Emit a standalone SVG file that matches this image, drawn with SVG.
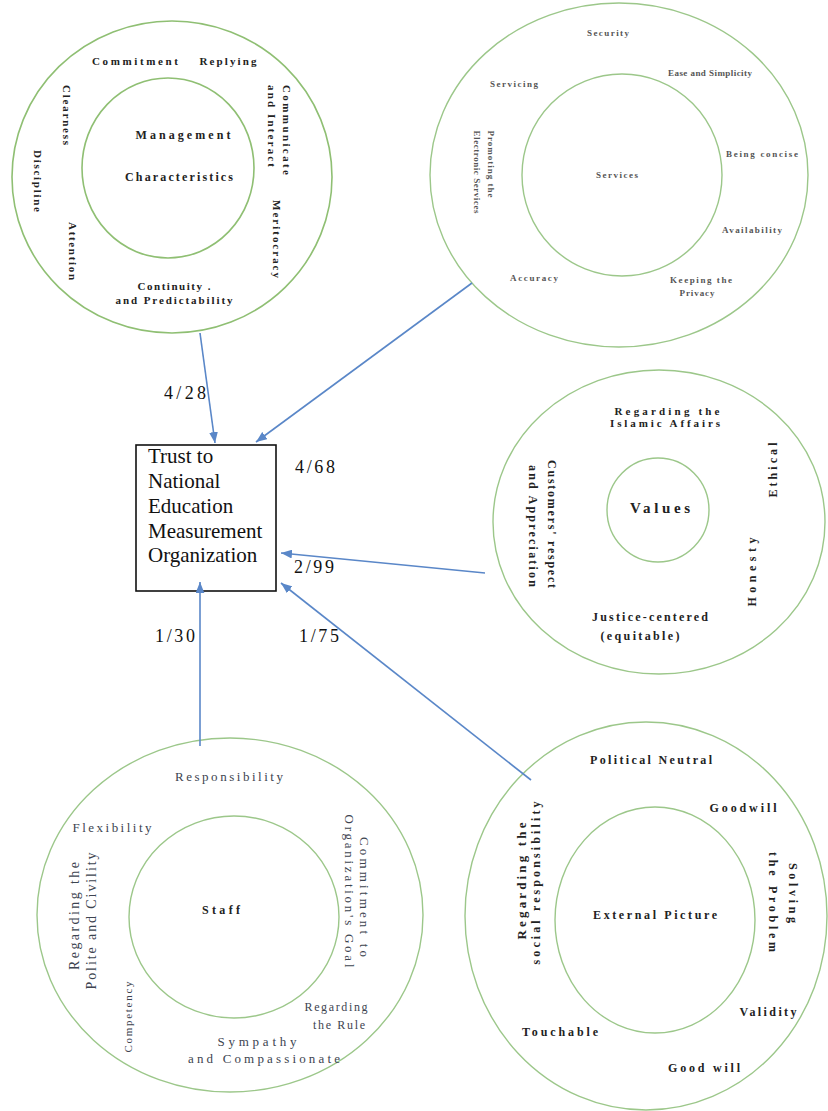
<svg xmlns="http://www.w3.org/2000/svg" width="828" height="1111" viewBox="0 0 828 1111">
<style>
.ring{fill:none;stroke:#8fbf73;stroke-width:1.6}
.ring2{fill:none;stroke:#9cc78a;stroke-width:1.4}
.t{font-family:"Liberation Serif","Times New Roman",serif;font-weight:bold;fill:#222;text-anchor:middle}
.s{font-family:"Liberation Serif","Times New Roman",serif;fill:#555;text-anchor:middle;font-size:9px;font-weight:bold}
.n{font-family:"Liberation Serif","Times New Roman",serif;fill:#3d4450;text-anchor:middle}
.conn{stroke:#5a87c8;stroke-width:1.6;fill:none;marker-end:url(#ah)}
.lbl{font-family:"Liberation Serif","Times New Roman",serif;font-size:18px;fill:#111;text-anchor:middle}
.box{font-family:"Liberation Serif","Times New Roman",serif;font-size:21px;fill:#111}
</style>
<defs>
<marker id="ah" viewBox="0 0 10 8" refX="10" refY="4" markerWidth="11" markerHeight="9" markerUnits="userSpaceOnUse" orient="auto">
<path d="M0,0 L10,4 L0,8 z" fill="#5a87c8"/>
</marker>
</defs>
<rect width="828" height="1111" fill="#fff"/>

<g id="management">
<ellipse class="ring" cx="172" cy="177" rx="160" ry="156"/>
<ellipse class="ring" cx="168" cy="168" rx="86" ry="90"/>
<g font-size="11">
<text class="t" x="135" y="65" textLength="86" lengthAdjust="spacing">Commitment</text>
<text class="t" x="228" y="65" textLength="57" lengthAdjust="spacing">Replying</text>
<text class="t" x="183" y="139" font-size="12" textLength="95" lengthAdjust="spacing">Management</text>
<text class="t" x="179" y="181" font-size="12" textLength="108" lengthAdjust="spacing">Characteristics</text>
<text class="t" x="174" y="290" textLength="73" lengthAdjust="spacing">Continuity .</text>
<text class="t" x="174" y="304" textLength="117" lengthAdjust="spacing">and Predictability</text>
<text class="t" transform="translate(67,115) rotate(90)" dy="4" textLength="60" lengthAdjust="spacing">Clearness</text>
<text class="t" transform="translate(38,181) rotate(90)" dy="4" textLength="62" lengthAdjust="spacing">Discipline</text>
<text class="t" transform="translate(73,251) rotate(90)" dy="4" textLength="58" lengthAdjust="spacing">Attention</text>
<text class="t" transform="translate(287,130) rotate(90)" dy="4" textLength="90" lengthAdjust="spacing">Communicate</text>
<text class="t" transform="translate(272,126) rotate(90)" dy="4" textLength="82" lengthAdjust="spacing">and Interact</text>
<text class="t" transform="translate(277,239) rotate(90)" dy="4" textLength="78" lengthAdjust="spacing">Meritocracy</text>
</g>
</g>

<g id="services">
<ellipse class="ring2" cx="619" cy="175" rx="189" ry="172"/>
<ellipse class="ring2" cx="622" cy="175" rx="100" ry="101"/>
<text class="s" x="608" y="36" textLength="42" lengthAdjust="spacing">Security</text>
<text class="s" x="710" y="76" font-size="8" textLength="84" lengthAdjust="spacing">Ease and Simplicity</text>
<text class="s" x="514" y="87" textLength="48" lengthAdjust="spacing">Servicing</text>
<text class="s" x="762" y="157" textLength="72" lengthAdjust="spacing">Being concise</text>
<text class="s" x="617" y="178" textLength="42" lengthAdjust="spacing">Services</text>
<text class="s" x="752" y="233" textLength="60" lengthAdjust="spacing">Availability</text>
<text class="s" x="534" y="281" textLength="48" lengthAdjust="spacing">Accuracy</text>
<text class="s" x="701" y="283" textLength="62" lengthAdjust="spacing">Keeping the</text>
<text class="s" x="697" y="296" textLength="35" lengthAdjust="spacing">Privacy</text>
<text class="s" transform="translate(491,164) rotate(90)" dy="3" textLength="67" lengthAdjust="spacing">Promoting the</text>
<text class="s" transform="translate(477,172) rotate(90)" dy="3" font-size="8" textLength="83" lengthAdjust="spacing">Electronic Services</text>
</g>

<g id="values">
<ellipse class="ring2" cx="659" cy="522" rx="166" ry="152"/>
<ellipse class="ring2" cx="658" cy="510" rx="51" ry="52"/>
<text class="t" x="667" y="415" font-size="11" textLength="105" lengthAdjust="spacing">Regarding the</text>
<text class="t" x="665" y="427" font-size="11" textLength="110" lengthAdjust="spacing">Islamic Affairs</text>
<text class="t" x="660" y="513" font-size="15" textLength="60" lengthAdjust="spacing">Values</text>
<text class="t" x="650" y="621" font-size="12" textLength="116" lengthAdjust="spacing">Justice-centered</text>
<text class="t" x="640" y="640" font-size="12" textLength="79" lengthAdjust="spacing">(equitable)</text>
<text class="t" transform="translate(773,470) rotate(-90)" dy="4" font-size="12" textLength="55" lengthAdjust="spacing">Ethical</text>
<text class="t" transform="translate(752,572) rotate(-90)" dy="4" font-size="12" textLength="69" lengthAdjust="spacing">Honesty</text>
<text class="t" transform="translate(552,524) rotate(90)" dy="4" font-size="12" textLength="128" lengthAdjust="spacing">Customers' respect</text>
<text class="t" transform="translate(533,526) rotate(90)" dy="4" font-size="12" textLength="122" lengthAdjust="spacing">and Appreciation</text>
</g>

<g id="staff">
<ellipse class="ring2" cx="230" cy="915" rx="193" ry="177"/>
<ellipse class="ring2" cx="234" cy="917" rx="105" ry="101"/>
<text class="n" x="229" y="781" font-size="13" textLength="108" lengthAdjust="spacing">Responsibility</text>
<text class="n" x="112" y="832" font-size="13" fill="#6b4a4a" textLength="79" lengthAdjust="spacing">Flexibility</text>
<text class="t" x="221" y="914" font-size="12" textLength="38" lengthAdjust="spacing">Staff</text>
<text class="n" x="336" y="1011" font-size="12" fill="#5a3a44" textLength="63" lengthAdjust="spacing">Regarding</text>
<text class="n" x="339" y="1029" font-size="12" fill="#5a3a44" textLength="52" lengthAdjust="spacing">the Rule</text>
<text class="n" x="257" y="1046" font-size="13" fill="#5a4444" textLength="79" lengthAdjust="spacing">Sympathy</text>
<text class="n" x="264" y="1063" font-size="13" fill="#4a4048" textLength="152" lengthAdjust="spacing">and Compassionate</text>
<text class="n" transform="translate(74,916) rotate(-90)" dy="5" font-size="14" fill="#4a4a52" textLength="108" lengthAdjust="spacing">Regarding the</text>
<text class="n" transform="translate(91,921) rotate(-90)" dy="5" font-size="14" fill="#4a4a52" textLength="137" lengthAdjust="spacing">Polite and Civility</text>
<text class="n" transform="translate(128,1017) rotate(-90)" dy="4" font-size="11" fill="#7a5a5a" textLength="71" lengthAdjust="spacing">Competency</text>
<text class="n" transform="translate(365,897) rotate(90)" dy="5" font-size="13" fill="#4a4048" textLength="120" lengthAdjust="spacing">Commitment to</text>
<text class="n" transform="translate(350,891) rotate(90)" dy="5" font-size="13" fill="#4a4048" textLength="153" lengthAdjust="spacing">Organization's Goal</text>
</g>

<g id="external">
<ellipse class="ring2" cx="646" cy="916" rx="181" ry="194"/>
<ellipse class="ring2" cx="655" cy="920" rx="100" ry="113"/>
<g font-size="12">
<text class="t" x="651" y="764" textLength="122" lengthAdjust="spacing">Political Neutral</text>
<text class="t" x="743" y="812" textLength="67" lengthAdjust="spacing">Goodwill</text>
<text class="t" x="655" y="919" textLength="124" lengthAdjust="spacing">External Picture</text>
<text class="t" x="768" y="1016" textLength="57" lengthAdjust="spacing">Validity</text>
<text class="t" x="560" y="1036" textLength="76" lengthAdjust="spacing">Touchable</text>
<text class="t" x="704" y="1072" textLength="72" lengthAdjust="spacing">Good will</text>
<text class="t" transform="translate(522,881) rotate(-90)" dy="4" font-size="13" textLength="117" lengthAdjust="spacing">Regarding the</text>
<text class="t" transform="translate(536,883) rotate(-90)" dy="4" textLength="163" lengthAdjust="spacing">social responsibility</text>
<text class="t" transform="translate(793,893) rotate(90)" dy="4" textLength="60" lengthAdjust="spacing">Solving</text>
<text class="t" transform="translate(773,902) rotate(90)" dy="4" textLength="100" lengthAdjust="spacing">the Problem</text>
</g>
</g>

<g id="trust">
<rect x="136" y="445" width="140" height="146" fill="#fff" stroke="#111" stroke-width="1.6"/>
<text class="box" x="148" y="463">Trust to</text>
<text class="box" x="148" y="488">National</text>
<text class="box" x="148" y="513">Education</text>
<text class="box" x="148" y="538">Measurement</text>
<text class="box" x="148" y="562">Organization</text>
</g>

<g id="connectors">
<path class="conn" d="M200,333 L215,443"/>
<path class="conn" d="M472,283 L256,442"/>
<path class="conn" d="M485,573 L281,553"/>
<path class="conn" d="M200,746 L200,582"/>
<path class="conn" d="M531,780 L281,583"/>
<text class="lbl" x="185" y="399" textLength="42" lengthAdjust="spacing">4/28</text>
<text class="lbl" x="315" y="473" textLength="40" lengthAdjust="spacing">4/68</text>
<text class="lbl" x="314" y="573" textLength="40" lengthAdjust="spacing">2/99</text>
<text class="lbl" x="175" y="642" textLength="40" lengthAdjust="spacing">1/30</text>
<text class="lbl" x="319" y="642" textLength="40" lengthAdjust="spacing">1/75</text>
</g>
</svg>
